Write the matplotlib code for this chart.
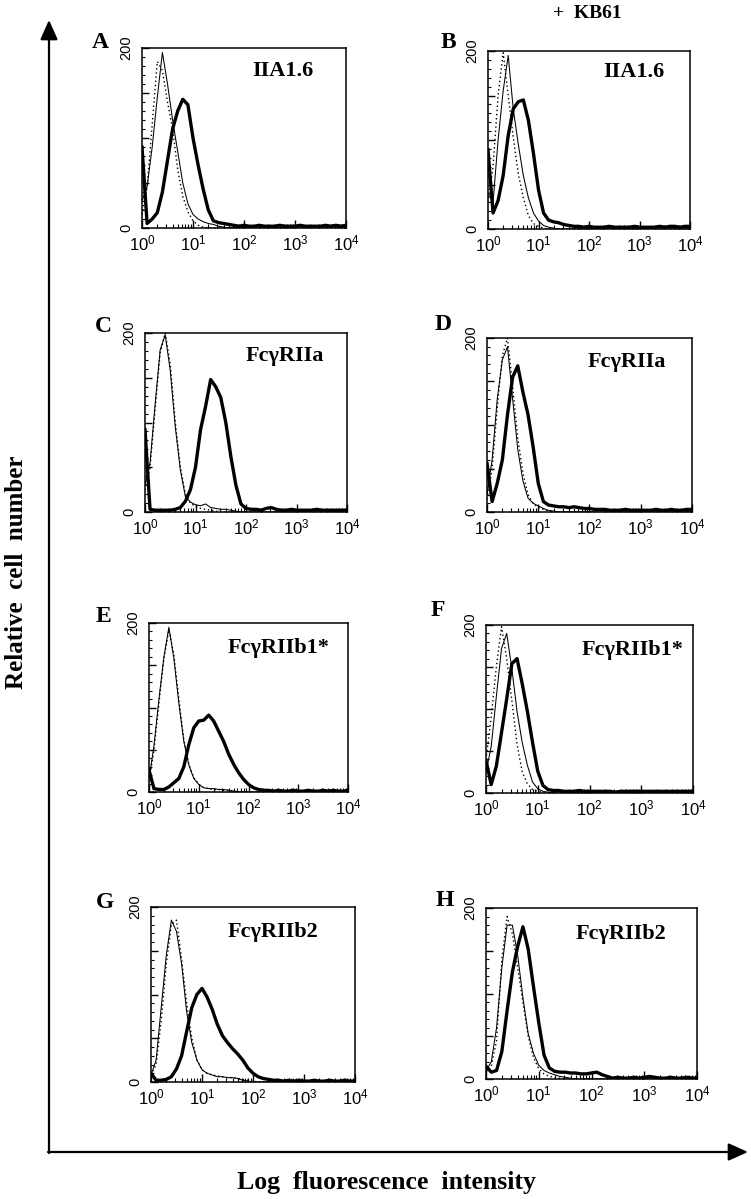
import numpy as np
import matplotlib
matplotlib.use("Agg")
import matplotlib.pyplot as plt
from matplotlib.ticker import FixedLocator, LogLocator, NullFormatter

plt.rcParams['font.family'] = ['Liberation Sans', 'DejaVu Sans']
plt.rcParams['mathtext.fontset'] = 'custom'
plt.rcParams['mathtext.rm'] = 'Liberation Sans'
plt.rcParams['mathtext.it'] = 'Liberation Sans:italic'
plt.rcParams['mathtext.bf'] = 'Liberation Sans:bold'

# ---------------- data (log10 fluorescence channels 0.0 .. 4.0, step 0.1) ----------------
LOG_CHANNELS = np.linspace(0.0, 4.0, 41)

PANEL_LETTERS = ["A", "B", "C", "D", "E", "F", "G", "H"]
PANEL_NAMES = ["IIA1.6", "IIA1.6", "FcγRIIa", "FcγRIIa",
               "FcγRIIb1*", "FcγRIIb1*", "FcγRIIb2", "FcγRIIb2"]
X_TICK_LABELS = [r"$10^0$", r"$10^1$", r"$10^2$", r"$10^3$", r"$10^4$"]
Y_TICK_LABELS = ["0", "200"]

A_thick = [90, 5, 10, 17, 40, 75, 110, 130, 143, 137,
           100, 70, 43, 20, 8, 6, 5, 4, 3, 2,
           3, 2, 2, 3, 2, 2, 2, 3, 2, 2,
           2, 3, 2, 2, 2, 2, 3, 2, 3, 2, 3]
A_thin = [30, 46, 90, 145, 195, 160, 120, 85, 50, 27,
          15, 10, 7, 5, 4, 2, 1, 0, 0, 0,
          0, 0, 0, 0, 0, 0, 0, 0, 0, 0,
          0, 0, 0, 0, 0, 0, 0, 0, 0, 0, 0]
A_dot = [15, 45, 115, 185, 175, 140, 110, 65, 35, 18,
         8, 3, 1, 0, 0, 0, 0, 0, 0, 0,
         0, 0, 0, 0, 0, 0, 0, 0, 0, 0,
         0, 0, 0, 0, 0, 0, 0, 0, 0, 0, 0]

B_thick = [89, 18, 32, 60, 105, 135, 143, 145, 122, 85,
           44, 18, 10, 8, 7, 5, 4, 3, 3, 2,
           3, 2, 2, 2, 3, 2, 2, 2, 2, 3,
           2, 2, 2, 2, 3, 2, 3, 3, 2, 3, 3]
B_thin = [40, 30, 100, 155, 195, 135, 95, 60, 35, 18,
          9, 4, 2, 1, 0, 0, 0, 0, 0, 0,
          0, 0, 0, 0, 0, 0, 0, 0, 0, 0,
          0, 0, 0, 0, 0, 0, 0, 0, 0, 0, 0]
B_dot = [30, 70, 150, 198, 150, 103, 62, 35, 15, 6,
         3, 1, 0, 0, 0, 0, 0, 0, 0, 0,
         0, 0, 0, 0, 0, 0, 0, 0, 0, 0,
         0, 0, 0, 0, 0, 0, 0, 0, 0, 0, 0]

C_thick = [92, 3, 2, 2, 2, 2, 3, 5, 12, 25,
           50, 92, 118, 148, 140, 128, 100, 62, 30, 9,
           4, 3, 3, 2, 4, 5, 3, 2, 2, 3,
           2, 2, 2, 2, 3, 2, 2, 2, 2, 2, 2]
C_thin = [30, 55, 120, 181, 198, 158, 95, 47, 17, 11,
          8, 7, 9, 5, 4, 3, 3, 2, 1, 0,
          0, 0, 0, 0, 0, 0, 0, 0, 0, 0,
          0, 0, 0, 0, 0, 0, 0, 0, 0, 0, 0]
C_dot = [25, 50, 115, 178, 200, 165, 100, 50, 20, 10,
         6, 4, 3, 2, 1, 0, 0, 0, 0, 0,
         0, 0, 0, 0, 0, 0, 0, 0, 0, 0,
         0, 0, 0, 0, 0, 0, 0, 0, 0, 0, 0]

D_thick = [56, 12, 33, 60, 112, 155, 168, 138, 112, 75,
           33, 12, 8, 7, 6, 6, 5, 6, 5, 4,
           4, 3, 3, 3, 2, 2, 2, 3, 2, 2,
           2, 2, 2, 3, 2, 2, 3, 2, 2, 3, 3]
D_thin = [20, 60, 130, 175, 190, 130, 72, 36, 16, 10,
          7, 4, 2, 1, 0, 0, 0, 0, 0, 0,
          0, 0, 0, 0, 0, 0, 0, 0, 0, 0,
          0, 0, 0, 0, 0, 0, 0, 0, 0, 0, 0]
D_dot = [15, 50, 120, 180, 200, 145, 85, 45, 20, 10,
         5, 3, 1, 0, 0, 0, 0, 0, 0, 0,
         0, 0, 0, 0, 0, 0, 0, 0, 0, 0,
         0, 0, 0, 0, 0, 0, 0, 0, 0, 0, 0]

E_thick = [26, 4, 3, 3, 6, 11, 16, 30, 56, 76,
           84, 85, 91, 84, 72, 60, 45, 33, 23, 15,
           9, 5, 3, 2, 2, 1, 2, 1, 1, 2,
           1, 1, 2, 1, 1, 2, 1, 2, 1, 1, 2]
E_thin = [15, 55, 110, 160, 195, 158, 105, 60, 32, 16,
          9, 5, 4, 4, 3, 3, 2, 1, 0, 0,
          0, 0, 0, 0, 0, 0, 0, 0, 0, 0,
          0, 0, 0, 0, 0, 0, 0, 0, 0, 0, 0]
E_dot = [12, 50, 105, 158, 192, 162, 110, 62, 33, 17,
         9, 5, 4, 3, 3, 2, 2, 1, 0, 0,
         0, 0, 0, 0, 0, 0, 0, 0, 0, 0,
         0, 0, 0, 0, 0, 0, 0, 0, 0, 0, 0]

F_thick = [39, 10, 32, 72, 112, 154, 160, 130, 97, 60,
           26, 9, 4, 3, 3, 2, 2, 2, 3, 2,
           2, 2, 2, 2, 2, 1, 2, 2, 2, 2,
           2, 2, 2, 2, 2, 2, 2, 2, 2, 2, 2]
F_thin = [25, 55, 115, 172, 190, 148, 97, 60, 33, 13,
          5, 2, 1, 0, 0, 0, 0, 0, 0, 0,
          0, 0, 0, 0, 0, 0, 0, 0, 0, 0,
          0, 0, 0, 0, 0, 0, 0, 0, 0, 0, 0]
F_dot = [40, 90, 150, 198, 160, 110, 58, 25, 11, 4,
         2, 1, 0, 0, 0, 0, 0, 0, 0, 0,
         0, 0, 0, 0, 0, 0, 0, 0, 0, 0,
         0, 0, 0, 0, 0, 0, 0, 0, 0, 0, 0]

G_thick = [10, 2, 2, 3, 6, 15, 30, 58, 85, 100,
           107, 97, 83, 66, 53, 45, 38, 32, 25, 16,
           10, 6, 4, 3, 2, 2, 1, 2, 1, 2,
           1, 1, 2, 1, 1, 2, 1, 1, 2, 1, 1]
G_thin = [8, 25, 85, 145, 185, 172, 135, 80, 45, 25,
          14, 10, 8, 6, 6, 5, 5, 4, 2, 1,
          0, 0, 0, 0, 0, 0, 0, 0, 0, 0,
          0, 0, 0, 0, 0, 0, 0, 0, 0, 0, 0]
G_dot = [8, 20, 70, 135, 180, 185, 140, 90, 50, 25,
         14, 10, 8, 7, 6, 5, 5, 4, 3, 2,
         1, 0, 0, 0, 0, 0, 0, 0, 0, 0,
         0, 0, 0, 0, 0, 0, 0, 0, 0, 0, 0]

H_thick = [15, 8, 10, 32, 80, 125, 155, 178, 152, 108,
           66, 28, 13, 9, 8, 8, 7, 7, 6, 6,
           7, 8, 5, 3, 1, 2, 1, 1, 2, 1,
           2, 3, 2, 1, 1, 2, 1, 1, 2, 1, 1]
H_thin = [10, 20, 60, 130, 180, 180, 145, 95, 53, 30,
          16, 10, 7, 5, 3, 2, 1, 0, 0, 0,
          0, 0, 0, 0, 0, 0, 0, 0, 0, 0,
          0, 0, 0, 0, 0, 0, 0, 0, 0, 0, 0]
H_dot = [8, 15, 45, 140, 190, 170, 130, 90, 50, 25,
         12, 6, 3, 2, 1, 0, 0, 0, 0, 0,
         0, 0, 0, 0, 0, 0, 0, 0, 0, 0,
         0, 0, 0, 0, 0, 0, 0, 0, 0, 0, 0]

THICK = [A_thick, B_thick, C_thick, D_thick, E_thick, F_thick, G_thick, H_thick]
THIN = [A_thin, B_thin, C_thin, D_thin, E_thin, F_thin, G_thin, H_thin]
DOTTED = [A_dot, B_dot, C_dot, D_dot, E_dot, F_dot, G_dot, H_dot]

# ---------------- layout (pixels in a 751 x 1199 canvas) ----------------
W, H = 751, 1199
BOXES = [  # left, top, right, bottom
    (142, 48, 346, 228), (488, 51, 690, 229),
    (145, 333, 347, 512), (487, 338, 692, 512),
    (149, 623, 348, 792), (486, 625, 693, 793),
    (151, 907, 355, 1082), (486, 908, 697, 1079),
]
LETTER_POS = [(100, 42), (448, 42), (103, 327), (443, 325),
              (103, 617), (438, 611), (105, 903), (445, 900)]
NAME_POS = [(0.69, 0.87), (0.72, 0.88), (0.69, 0.87), (0.68, 0.86),
            (0.65, 0.85), (0.71, 0.85), (0.60, 0.86), (0.64, 0.85)]

SERIF = ['Liberation Serif', 'DejaVu Serif']

fig = plt.figure(figsize=(W / 100, H / 100), dpi=100)

bg = fig.add_axes([0, 0, 1, 1])
bg.set_xlim(0, W)
bg.set_ylim(H, 0)
bg.axis('off')

arrow_style = '-|>,head_length=0.85,head_width=0.38'
bg.annotate('', xy=(49, 20), xytext=(49, 1153),
            arrowprops=dict(arrowstyle=arrow_style, lw=1.6, color='black',
                            mutation_scale=14, shrinkA=0, shrinkB=0))
bg.annotate('', xy=(748, 1152), xytext=(48, 1152),
            arrowprops=dict(arrowstyle=arrow_style, lw=1.6, color='black',
                            mutation_scale=14, shrinkA=0, shrinkB=0))

bg.text(587, 13, "+  KB61", family=SERIF, weight='bold', fontsize=14,
        ha='center', va='center')
bg.text(17, 572, "Relative  cell  number", family=SERIF, weight='bold',
        fontsize=18, rotation=90, ha='center', va='center')
bg.text(386, 1182, "Log  fluorescence  intensity", family=SERIF, weight='bold',
        fontsize=18.5, ha='center', va='center')

x_vals = 10 ** LOG_CHANNELS

for i in range(8):
    l, t, r, b = BOXES[i]
    ax = fig.add_axes([l / W, 1 - b / H, (r - l) / W, (b - t) / H])
    ax.plot(x_vals, DOTTED[i], color='black', lw=1.0, ls=(0, (1, 2)))
    ax.plot(x_vals, THIN[i], color='black', lw=0.75)
    ax.plot(x_vals, THICK[i], color='black', lw=2.4)
    ax.set_xscale('log')
    ax.set_xlim(1, 1e4)
    ax.set_ylim(0, 200)
    for sp in ax.spines.values():
        sp.set_linewidth(1.1)

    ax.xaxis.set_major_locator(FixedLocator([1, 10, 100, 1000, 10000]))
    ax.set_xticklabels(X_TICK_LABELS)
    ax.xaxis.set_minor_locator(LogLocator(base=10, subs=np.arange(2, 10), numticks=20))
    ax.xaxis.set_minor_formatter(NullFormatter())
    ax.tick_params(axis='x', which='major', direction='in', length=6, width=1.0,
                   labelsize=12, pad=4)
    ax.tick_params(axis='x', which='minor', direction='in', length=3, width=0.8)

    ax.yaxis.set_major_locator(FixedLocator([0, 50, 100, 150, 200]))
    ax.set_yticklabels([Y_TICK_LABELS[0], "", "", "", Y_TICK_LABELS[1]])
    ax.yaxis.set_minor_locator(FixedLocator([v for v in range(10, 200, 10) if v % 50 != 0]))
    ax.tick_params(axis='y', which='major', direction='in', length=5, width=1.0,
                   labelsize=10.5, pad=6, labelrotation=90)
    ax.tick_params(axis='y', which='minor', direction='in', length=2.5, width=0.8)
    for lbl in ax.get_yticklabels():
        lbl.set_va('center')

    ax.text(NAME_POS[i][0], NAME_POS[i][1], PANEL_NAMES[i], transform=ax.transAxes,
            family=SERIF, weight='bold', fontsize=16, ha='center', va='center')
    bg.text(LETTER_POS[i][0], LETTER_POS[i][1], PANEL_LETTERS[i], family=SERIF,
            weight='bold', fontsize=17, ha='center', va='center')

fig.savefig('out.png', dpi=100)
